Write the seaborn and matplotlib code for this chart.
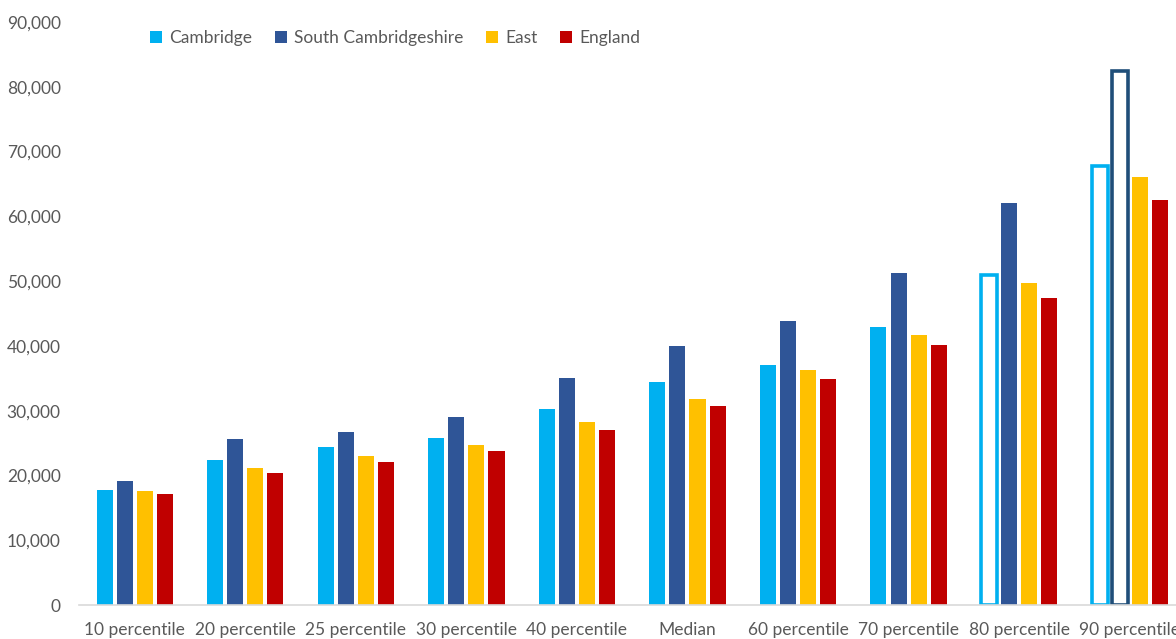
import matplotlib
matplotlib.use("Agg")
import matplotlib.pyplot as plt
from matplotlib.patches import Patch
from matplotlib.ticker import FuncFormatter
import seaborn as sns
import pandas as pd

categories = ["10 percentile", "20 percentile", "25 percentile", "30 percentile",
              "40 percentile", "Median", "60 percentile", "70 percentile",
              "80 percentile", "90 percentile"]
series_names = ["Cambridge", "South Cambridgeshire", "East", "England"]
cambridge = [17800, 22400, 24400, 25800, 30200, 34500, 37000, 42900, 51000, 67800]
south_cambs = [19100, 25600, 26700, 29000, 35000, 40000, 43800, 51200, 62000, 82500]
east = [17600, 21200, 23000, 24700, 28200, 31800, 36300, 41700, 49700, 66000]
england = [17200, 20400, 22000, 23700, 27000, 30700, 34900, 40100, 47400, 62500]
colors = ["#00B0F0", "#2F5597", "#FFC000", "#C00000"]

# bars drawn as outlines only: (series index, category index, edge colour)
hollow = [(0, 8, "#00B0F0"), (0, 9, "#00B0F0"), (1, 9, "#1F4E79")]

rows = []
for name, vals in zip(series_names, [cambridge, south_cambs, east, england]):
    for cat, v in zip(categories, vals):
        rows.append({"category": cat, "series": name, "value": v})
df = pd.DataFrame(rows)

sns.set_theme(style="white")
plt.rcParams["font.family"] = ["Lato", "DejaVu Sans"]
text_color = "#595959"

fig = plt.figure(figsize=(11.76, 6.39), dpi=100)
ax = fig.add_axes([79.4 / 1176, 34 / 639, 1105.6 / 1176, 583 / 639])

sns.barplot(data=df, x="category", y="value", hue="series",
            order=categories, hue_order=series_names, palette=colors,
            width=0.727, gap=0.2, saturation=1, ax=ax, legend=False,
            errorbar=None, linewidth=0)

for s_idx, c_idx, ec in hollow:
    bar = ax.containers[s_idx][c_idx]
    bar.set_facecolor("white")
    bar.set_edgecolor(ec)
    bar.set_linewidth(2.6)

ax.set_xlim(-0.5, 9.5)
ax.set_ylim(0, 90000)
ax.set_yticks(range(0, 90001, 10000))
ax.yaxis.set_major_formatter(FuncFormatter(lambda v, p: f"{int(v):,}"))
ax.set_xlabel("")
ax.set_ylabel("")
for side in ["left", "right", "top"]:
    ax.spines[side].set_visible(False)
ax.spines["bottom"].set_color("#D9D9D9")
ax.spines["bottom"].set_linewidth(1.2)
ax.tick_params(axis="both", length=0, colors=text_color, labelsize=12.5)
ax.tick_params(axis="y", pad=13.5)
ax.tick_params(axis="x", pad=12)
ax.patch.set_alpha(0)

handles = [Patch(facecolor=c, edgecolor="none") for c in colors]
leg = fig.legend(handles, series_names, loc="center", bbox_to_anchor=(0.336, 0.94),
                 ncol=4, frameon=False, fontsize=12.5, handlelength=0.7,
                 handleheight=0.7, handletextpad=0.4, columnspacing=1.3)
for t in leg.get_texts():
    t.set_color(text_color)

fig.savefig("out.png", dpi=100)
